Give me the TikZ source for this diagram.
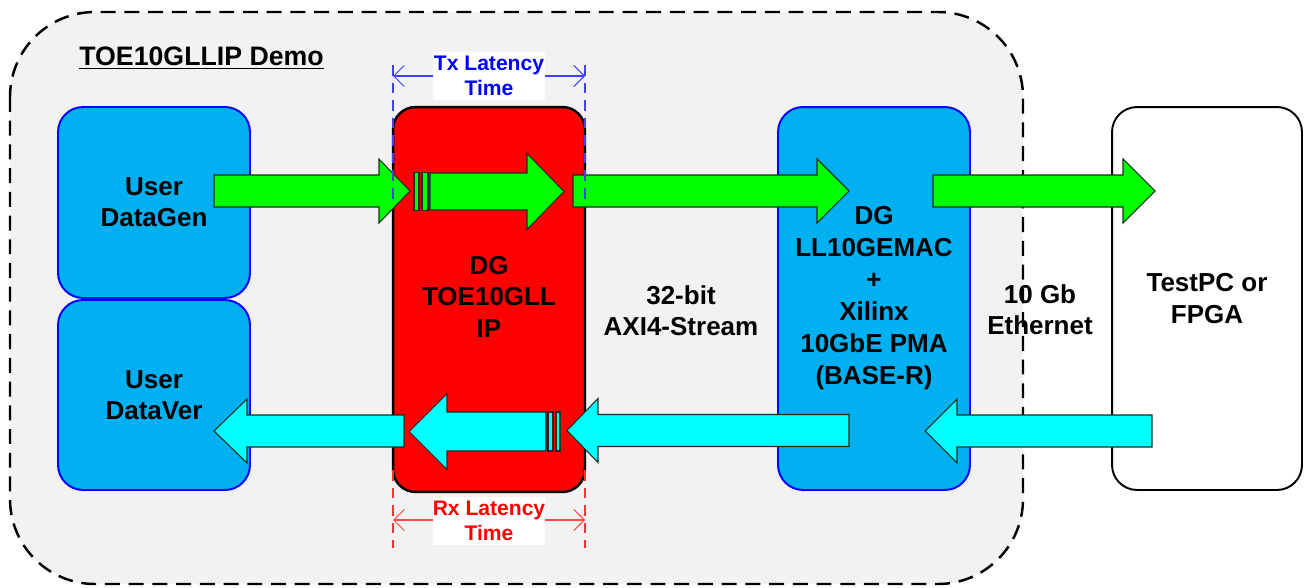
\documentclass[tikz,border=0pt]{standalone}
\usepackage{fontspec}
\setmainfont{Liberation Sans}
\usetikzlibrary{arrows.meta}
\definecolor{bgc}{HTML}{F2F2F2}
\definecolor{boxblue}{HTML}{00B0F0}
\definecolor{grn}{HTML}{00FF00}
\definecolor{cyn}{HTML}{00FFFF}
\definecolor{edgeblue}{HTML}{0000FF}
\definecolor{arrowedge}{HTML}{1E2E1E}
\newcommand{\bkarrow}[7]{% tail x, base x, tip x, yc, half shaft, half head, colour
  \filldraw[fill=#7, draw=arrowedge, line width=0.6pt, line join=miter]
    (#1,#4-#5) -- (#2,#4-#5) -- (#2,#4-#6) -- (#3,#4) -- (#2,#4+#6) -- (#2,#4+#5) -- (#1,#4+#5) -- cycle;}
\newcommand{\stripebar}[5]{% x1 x2 yc half colour
  \filldraw[fill=#5, draw=arrowedge, line width=0.6pt] (#1,#3-#4) rectangle (#2,#3+#4);}
\begin{document}
\begin{tikzpicture}[x=0.02cm,y=-0.02cm,
  mainfont/.style={font=\fontsize{14.8}{17.8}\selectfont\bfseries},
  ubox/.style={draw=edgeblue, fill=boxblue, line width=1.1pt, rounded corners=0.5cm,
     minimum width=3.84cm, inner sep=0pt, align=center, mainfont},
  latlab/.style={fill=white, inner sep=0pt, minimum width=2.24cm, minimum height=0.96cm,
     align=center, font=\fontsize{12}{14.2}\selectfont\bfseries},
  freelab/.style={align=center, mainfont, inner sep=0pt},
  dimline/.style={line width=0.6pt, {Straight Barb[length=6pt,width=12pt]}-{Straight Barb[length=6pt,width=12pt]}},
  guide/.style={line width=1pt, dash pattern=on 6pt off 4pt}
]
\useasboundingbox (0,0) rectangle (1308,588);
\fill[white] (0,0) rectangle (1308,588);
% demo frame
\filldraw[fill=bgc, draw=black, line width=1.4pt, dash pattern=on 8.5pt off 5pt, rounded corners=1.7cm]
  (10,12) rectangle (1023,584);
\node[anchor=west, inner sep=0pt, font=\fontsize{15.2}{17}\selectfont\bfseries] (title) at (79,58) {\underline{TOE10GLLIP Demo}};

% boxes
\node[ubox, minimum height=3.82cm] (gen) at (154,202.5) {User\\DataGen};
\node[ubox, minimum height=3.8cm] (ver) at (154,395) {User\\DataVer};
\node[draw=black, fill=red, line width=1.4pt, rounded corners=0.45cm, minimum width=3.84cm,
      minimum height=7.7cm, inner sep=0pt, align=center, mainfont] (toe) at (489,299.5)
      {\raisebox{3pt}{\begin{tabular}{@{}c@{}}DG\\TOE10GLL\\IP\end{tabular}}};
\node[ubox, minimum height=7.66cm, font=\fontsize{14.8}{18.2}\selectfont\bfseries] (mac) at (874,298.5)
      {DG\\LL10GEMAC\\+\\Xilinx\\10GbE PMA\\(BASE-R)};
\node[draw=black, fill=white, line width=1.1pt, rounded corners=0.5cm, minimum width=3.8cm,
      minimum height=7.66cm, inner sep=0pt, align=center, mainfont] (pc) at (1207,298.5) {TestPC or\\FPGA};

% labels
\node[freelab] (axi) at (681,311) {32-bit\\AXI4-Stream};
\node[freelab] (eth) at (1040,310) {10 Gb\\Ethernet};

% Tx path (green)
\bkarrow{214}{379}{410}{191}{16}{32}{grn}
\stripebar{414}{419}{191.5}{19}{grn}
\stripebar{422}{428}{191.5}{19}{grn}
\bkarrow{430}{527}{564}{191.5}{18.5}{38}{grn}
\bkarrow{573}{817}{849}{191}{16}{32}{grn}
\bkarrow{933}{1123}{1155}{191}{16}{32}{grn}

% Rx path (cyan)
\bkarrow{1152}{957}{925}{431}{16}{32}{cyn}
\bkarrow{849}{598}{567}{430.5}{16}{32}{cyn}
\stripebar{548}{553}{431.5}{19.5}{cyn}
\stripebar{556}{560}{431.5}{19.5}{cyn}
\bkarrow{546}{447}{409}{431.5}{19.5}{38}{cyn}
\bkarrow{404}{247}{214}{431}{16}{32}{cyn}

% Tx latency
\coordinate (txl) at (393,76); \coordinate (txr) at (585,76);
\draw[guide, draw=edgeblue!75] (393,65) -- (393,200);
\draw[guide, draw=edgeblue!75] (585,65) -- (585,200);
\draw[dimline, draw=edgeblue!75] (txl) -- (txr);
\node[latlab, text=edgeblue] (txlab) at (489,76) {Tx Latency\\Time};

% Rx latency
\coordinate (rxl) at (393,520); \coordinate (rxr) at (585,520);
\draw[guide, draw=red!80] (393,470) -- (393,548);
\draw[guide, draw=red!80] (585,470) -- (585,548);
\draw[dimline, draw=red!70] (rxl) -- (rxr);
\node[latlab, text=red] (rxlab) at (489,521) {Rx Latency\\Time};
\end{tikzpicture}
\end{document}
